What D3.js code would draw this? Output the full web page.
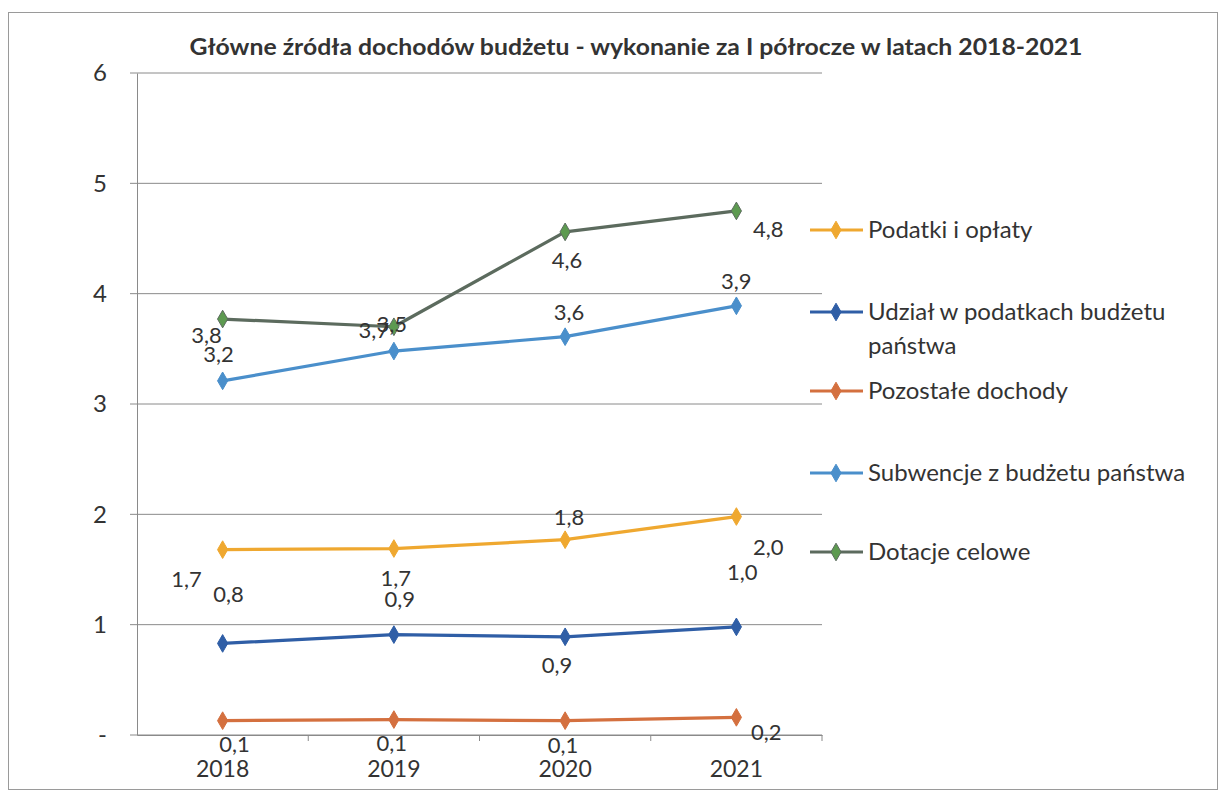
<!DOCTYPE html>
<html lang="pl">
<head>
<meta charset="UTF-8">
<title>Główne źródła dochodów budżetu</title>
<style>
    body { margin: 0; background: #fff; }
    svg { display: block; font-family: Lato, 'Open Sans', sans-serif; }
    .grid line { stroke: #8a8a8a; stroke-width: 1; }
    .lbl { font-size: 22px; fill: #333; }
</style>
</head>
<body>
<div id="chart"></div>
<script src="https://d3js.org/d3.v7.min.js"></script>
<script>
    const years = ["2018", "2019", "2020", "2021"];
    const yTicks = [0, 1, 2, 3, 4, 5, 6];

    const seriesNames = [
        "Podatki i opłaty",
        "Udział w podatkach budżetu państwa",
        "Pozostałe dochody",
        "Subwencje z budżetu państwa",
        "Dotacje celowe"
    ];
    const podatki = [1.68, 1.69, 1.77, 1.98];
    const udzial = [0.83, 0.91, 0.89, 0.98];
    const pozostale = [0.13, 0.14, 0.13, 0.16];
    const subwencje = [3.21, 3.48, 3.61, 3.89];
    const dotacje = [3.77, 3.70, 4.56, 4.75];

    const lineColors = ["#efa830", "#2f5ea6", "#d4703f", "#4a8fcb", "#5c6b5e"];
    const markerColors = ["#efa830", "#2f5ea6", "#d4703f", "#4a8fcb", "#5d9a50"];
    // label offsets relative to the point (Excel placed them rather freely)
    const labelOffsets = [
        [[-36, 30], [2, 30], [4, -22], [32, 31]],
        [[6, -49], [6, -35], [-8, 28], [6, -55]],
        [[12, 24], [-2, 24], [-2, 25], [30, 15]],
        [[-4, -27], [-2, -27], [4, -24], [0, -25]],
        [[-16, 16], [-20, 4], [2, 28], [32, 18]]
    ];

    const allValues = [podatki, udzial, pozostale, subwencje, dotacje];
    const W = 1226, H = 798;
    const plotLeft = 137, plotRight = 822, plotTop = 73, plotBottom = 735;

    const svg = d3.select("#chart").append("svg")
        .attr("width", W).attr("height", H);

    svg.append("rect")
        .attr("x", 8.5).attr("y", 12.5).attr("width", 1209).attr("height", 777)
        .attr("fill", "#fff").attr("stroke", "#9a9a9a");

    const x = d3.scaleBand().domain(years).range([plotLeft, plotRight]);
    const y = d3.scaleLinear().domain([0, 6]).range([plotBottom, plotTop]);

    // title
    svg.append("text")
        .attr("x", 636).attr("y", 55)
        .attr("text-anchor", "middle")
        .attr("font-size", 23).attr("font-weight", "bold").attr("fill", "#333")
        .attr("textLength", 893).attr("lengthAdjust", "spacingAndGlyphs")
        .text("Główne źródła dochodów budżetu - wykonanie za I półrocze w latach 2018-2021");

    // gridlines
    svg.append("g").attr("class", "grid")
        .selectAll("line").data(yTicks).join("line")
        .attr("x1", plotLeft - 7).attr("x2", plotRight)
        .attr("y1", d => y(d)).attr("y2", d => y(d));

    // y axis
    const yAxis = svg.append("g")
        .attr("transform", `translate(${plotLeft},0)`)
        .call(d3.axisLeft(y).tickValues(yTicks).tickSize(0).tickPadding(30)
            .tickFormat(d => d === 0 ? "-" : d));
    yAxis.select(".domain").attr("stroke", "#8a8a8a");
    yAxis.selectAll("text").attr("font-size", 24).attr("fill", "#333")
        .attr("font-family", "Lato, sans-serif");

    // x axis
    const xAxis = svg.append("g")
        .attr("transform", `translate(0,${plotBottom})`)
        .call(d3.axisBottom(x).tickSize(0).tickPadding(26));
    xAxis.select(".domain").attr("stroke", "#8a8a8a");
    xAxis.selectAll("text").attr("font-size", 23).attr("fill", "#333")
        .attr("font-family", "Lato, sans-serif");
    xAxis.selectAll(".sep").data(years).join("line")
        .attr("class", "sep")
        .attr("x1", d => x(d) + x.bandwidth()).attr("x2", d => x(d) + x.bandwidth())
        .attr("y1", 0).attr("y2", 6).attr("stroke", "#8a8a8a");

    const cx = d => x(d) + x.bandwidth() / 2;
    const line = d3.line().x((d, i) => cx(years[i])).y(d => y(d));
    const diamond = d3.symbol().type(d3.symbolDiamond).size(90);

    // draw order: back to front
    const order = [2, 1, 0, 3, 4];
    order.forEach(s => {
        const vals = allValues[s];
        const g = svg.append("g");
        g.append("path").datum(vals)
            .attr("d", line).attr("fill", "none")
            .attr("stroke", lineColors[s]).attr("stroke-width", 3.2)
            .attr("stroke-linejoin", "round");
        g.selectAll("path.m").data(vals).join("path")
            .attr("class", "m")
            .attr("d", diamond)
            .attr("transform", (d, i) => `translate(${cx(years[i])},${y(d)})`)
            .attr("fill", markerColors[s]).attr("stroke", lineColors[s]).attr("stroke-width", 1);
    });

    order.forEach(s => {
        svg.append("g").selectAll("text").data(allValues[s]).join("text")
            .attr("class", "lbl")
            .attr("x", (d, i) => cx(years[i]) + labelOffsets[s][i][0])
            .attr("y", (d, i) => y(d) + labelOffsets[s][i][1])
            .attr("text-anchor", "middle")
            .attr("dy", "0.35em")
            .text(d => d.toFixed(1).replace(".", ","));
    });

    // legend
    const legendY = [230, 312, 391, 473, 552];
    const lg = svg.append("g");
    seriesNames.forEach((name, s) => {
        const gy = legendY[s];
        lg.append("line").attr("x1", 810).attr("x2", 863)
            .attr("y1", gy).attr("y2", gy)
            .attr("stroke", lineColors[s]).attr("stroke-width", 3.2);
        lg.append("path").attr("d", diamond)
            .attr("transform", `translate(836,${gy})`)
            .attr("fill", markerColors[s]).attr("stroke", lineColors[s]);
        const t = lg.append("text").attr("x", 868).attr("y", gy)
            .attr("dy", "0.35em").attr("font-size", 24).attr("fill", "#333");
        if (s === 1) {
            t.append("tspan").attr("x", 868).text("Udział w podatkach budżetu");
            t.append("tspan").attr("x", 868).attr("dy", "1.38em").text("państwa");
        } else {
            t.text(name);
        }
    });
</script>
</body>
</html>
